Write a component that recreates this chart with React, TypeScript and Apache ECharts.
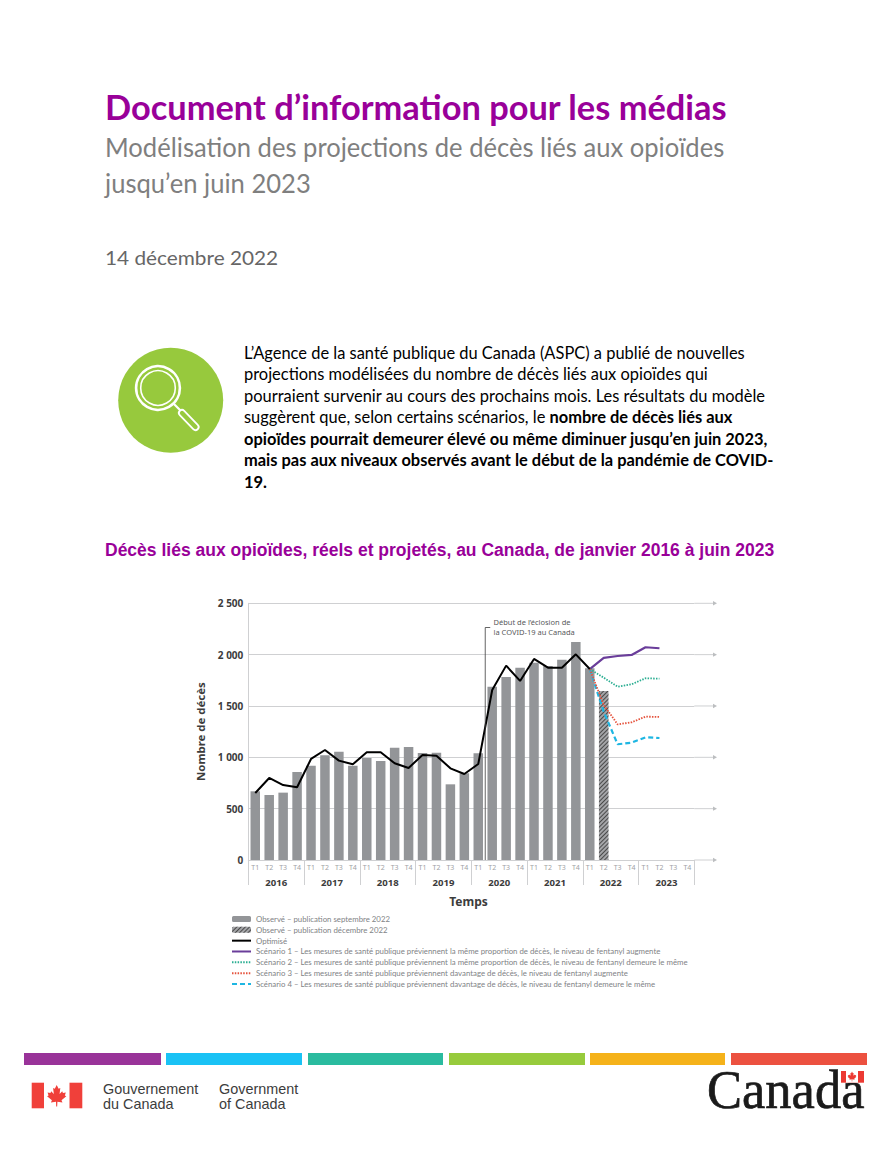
import React, { useEffect, useRef } from "react";
import * as echarts from "echarts";

const quarters = ["T1","T2","T3","T4","T1","T2","T3","T4","T1","T2","T3","T4","T1","T2","T3","T4","T1","T2","T3","T4","T1","T2","T3","T4","T1","T2","T3","T4","T1","T2","T3","T4"];
const years = ["2016","2017","2018","2019","2020","2021","2022","2023"];
const yTicks = [0, 500, 1000, 1500, 2000, 2500];
const observedSept = [669,633,656,857,919,1020,1055,919,994,964,1094,1100,1042,1045,737,844,1039,1688,1783,1873,1922,1890,1951,2124,1867];
const observedDec = [null,null,null,null,null,null,null,null,null,null,null,null,null,null,null,null,null,null,null,null,null,null,null,null,null,1646];
const optimised = [653,799,730,708,984,1071,968,932,1049,1049,942,896,1023,1016,893,838,935,1656,1893,1744,1958,1873,1873,2003,1860];
const blank24 = [null,null,null,null,null,null,null,null,null,null,null,null,null,null,null,null,null,null,null,null,null,null,null,null];
const scenario1 = [...blank24, 1860, 1968, 1987, 1997, 2072, 2062];
const scenario2 = [...blank24, 1860, 1776, 1688, 1711, 1770, 1766];
const scenario3 = [...blank24, 1860, 1510, 1321, 1341, 1396, 1393];
const scenario4 = [...blank24, 1860, 1445, 1127, 1143, 1195, 1188];

const legendNames = [
  "Observé – publication septembre 2022",
  "Observé – publication décembre 2022",
  "Optimisé",
  "Scénario 1 – Les mesures de santé publique préviennent la même proportion de décès, le niveau de fentanyl augmente",
  "Scénario 2 – Les mesures de santé publique préviennent la même proportion de décès, le niveau de fentanyl demeure le même",
  "Scénario 3 – Les mesures de santé publique préviennent davantage de décès, le niveau de fentanyl augmente",
  "Scénario 4 – Les mesures de santé publique préviennent davantage de décès, le niveau de fentanyl demeure le même",
];

const bodyLines = [
  "{n|L’Agence de la santé publique du Canada (ASPC) a publié de nouvelles}",
  "{n|projections modélisées du nombre de décès liés aux opioïdes qui}",
  "{n|pourraient survenir au cours des prochains mois. Les résultats du modèle}",
  "{n|suggèrent que, selon certains scénarios, le }{b|nombre de décès liés aux}",
  "{b|opioïdes pourrait demeurer élevé ou même diminuer jusqu’en juin 2023,}",
  "{b|mais pas aux niveaux observés avant le début de la pandémie de COVID-}",
  "{b|19.}",
];
const bodyY = [352.5, 374, 395.5, 417, 438.5, 460, 481.5];
const footerColors = ["#993399", "#1AC2F5", "#2ABB9F", "#97CB3C", "#F5B21A", "#EC5140"];
const footerX = [[24,161],[166,302],[308,443],[449,585],[590,725],[731,867]];
const leaf = [[50,0],[42,16],[35,12],[38,38],[27,26],[24,33],[12,31],[16,44],[10,47],[30,64],[26,73],[47,70],[48,90],[52,90],[53,70],[74,73],[70,64],[90,47],[84,44],[88,31],[76,33],[73,26],[62,38],[65,12],[58,16]];

const body = "Lato";
const chartFont = "Noto Sans";
const arial = "Liberation Sans";
const purple = "#990099";

function txt(text: string, x: number, y: number, fontSize: number, fill: string, fontFamily: string, fontWeight: any = "normal", extra: any = {}) {
  return { type: "text", x, y, z: 10, silent: true, ...extra, style: { text, x: 0, y: 0, fontSize, fill, fontFamily, fontWeight, verticalAlign: "middle", ...(extra.style || {}) } };
}
function leafAt(x: number, y: number, s: number, fill: string, z = 11) {
  return { type: "polygon", x, y, z, scaleX: s, scaleY: s, shape: { points: leaf }, style: { fill } };
}

export default function App() {
  const ref = useRef<HTMLDivElement>(null);
  useEffect(() => {
    document.body.style.margin = "0";
    const chart = echarts.init(ref.current!, undefined, { renderer: "svg" });
    chart.setOption({
      animation: false,
      backgroundColor: "#fff",
      grid: { left: 248.3, top: 603.3, width: 446, height: 256.7, containLabel: false },
      legend: {
        left: 231, top: 915, orient: "vertical", itemWidth: 19, itemHeight: 6, itemGap: 2.83, padding: 0, selectedMode: false,
        textStyle: { fontFamily: "Lato", fontSize: 7.82, color: "#808285", lineHeight: 8 },
        data: legendNames.map((name, i) => (i < 2 ? { name } : { name, itemStyle: { color: "transparent", borderWidth: 0 } })),
      },
      xAxis: [
        { type: "category", data: quarters, position: "bottom", axisLine: { show: true, lineStyle: { color: "#cfd0d2", width: 1 } }, axisTick: { show: false }, axisLabel: { interval: 0, margin: 4, fontFamily: chartFont, fontSize: 7, color: "#a0a2a5" } },
        { type: "category", data: years, position: "bottom", axisLine: { show: false }, axisTick: { show: true, alignWithLabel: false, length: 25, lineStyle: { color: "#cfd0d2", width: 1 } }, axisLabel: { interval: 0, margin: 17, fontFamily: chartFont, fontWeight: "bold", fontSize: 9.6, color: "#3c3c3c" } },
      ],
      yAxis: {
        type: "value", min: 0, max: 2500, interval: 500,
        name: "Nombre de décès", nameLocation: "middle", nameGap: 42, nameRotate: 90,
        nameTextStyle: { fontFamily: chartFont, fontWeight: "bold", fontSize: 11.4, color: "#3c3c3c" },
        axisLine: { show: true, lineStyle: { color: "#cfd0d2" } }, axisTick: { show: false },
        axisLabel: { margin: 5, padding: [0, 0, 3, 0], fontFamily: chartFont, fontWeight: "bold", fontSize: 10, color: "#3c3c3c", formatter: (v: number) => (yTicks.includes(v) ? String(v).replace(/(\d)(?=\d{3}$)/, "$1 ") : "") },
        splitLine: { show: true, lineStyle: { color: "#cfd0d2", width: 1 } },
      },
      series: [
        { name: legendNames[0], type: "bar", data: observedSept, barWidth: 9.5, barGap: "-100%", itemStyle: { color: "#939598" } },
        { name: legendNames[1], type: "bar", data: observedDec, barWidth: 9.5, itemStyle: { color: "#a4a5a8", decal: { symbol: "rect", symbolSize: 1, dashArrayX: [1, 0], dashArrayY: [0.9, 2], rotation: -Math.PI / 4, color: "#4a4a4a" } } },
        { name: legendNames[2], type: "line", data: optimised, symbol: "none", z: 6, lineStyle: { color: "#000", width: 2 }, itemStyle: { color: "#000" } },
        { name: legendNames[3], type: "line", data: scenario1, symbol: "none", z: 5, lineStyle: { color: "#6A3D9A", width: 2.2 }, itemStyle: { color: "#6A3D9A" } },
        { name: legendNames[4], type: "line", data: scenario2, symbol: "none", z: 5, lineStyle: { color: "#2BAE92", width: 1.8, type: [1.5, 1.3] }, itemStyle: { color: "#2BAE92" } },
        { name: legendNames[5], type: "line", data: scenario3, symbol: "none", z: 5, lineStyle: { color: "#E5533D", width: 1.8, type: [1.5, 1.3] }, itemStyle: { color: "#E5533D" } },
        { name: legendNames[6], type: "line", data: scenario4, symbol: "none", z: 4, lineStyle: { color: "#1EB6E2", width: 2.2, type: [5, 3] }, itemStyle: { color: "#1EB6E2" } },
      ],
    });

    const rightEnd = chart.convertToPixel({ xAxisIndex: 0 }, 31) + 446 / 64;
    const arrowEnd = rightEnd + 18.7;
    const extensions = yTicks.flatMap((v) => {
      const y = chart.convertToPixel({ yAxisIndex: 0 }, v);
      return [
        { type: "line", z: 1, silent: true, shape: { x1: rightEnd, y1: y, x2: arrowEnd, y2: y }, style: { stroke: "#cfd0d2", lineWidth: 1 } },
        { type: "polygon", z: 1, silent: true, shape: { points: [[arrowEnd, y - 2.2], [arrowEnd + 4, y], [arrowEnd, y + 2.2]] }, style: { fill: "#bcbec0" } },
      ];
    });
    const covidX = chart.convertToPixel({ xAxisIndex: 0 }, 16) + 446 / 64;
    const covidBase = chart.convertToPixel({ yAxisIndex: 0 }, 0);

    chart.setOption({
      graphic: [
        txt("Document d’information pour les médias", 105, 106.5, 34.4, purple, body, "bold"),
        txt("Modélisation des projections de décès liés aux opioïdes", 105, 147, 27, "#7f7f7f", body, "normal", { scaleX: 0.948 }),
        txt("jusqu’en juin 2023", 105, 183, 27, "#7f7f7f", body, "normal", { scaleX: 0.948 }),
        txt("14 décembre 2022", 105, 257, 19, "#666", body, "normal", { scaleX: 1.095 }),
        { type: "circle", z: 5, shape: { cx: 170.7, cy: 400.3, r: 52.5 }, style: { fill: "#97C93D" } },
        { type: "circle", z: 6, shape: { cx: 158, cy: 388, r: 21.9 }, style: { fill: "none", stroke: "#fff", lineWidth: 2.6 } },
        { type: "circle", z: 6, shape: { cx: 158, cy: 388, r: 17.3 }, style: { fill: "none", stroke: "#fff", lineWidth: 1.6 } },
        { type: "line", z: 6, shape: { x1: 174, y1: 404, x2: 181, y2: 411 }, style: { stroke: "#fff", lineWidth: 2.2 } },
        { type: "line", z: 6, shape: { x1: 182, y1: 413, x2: 195.5, y2: 427 }, style: { stroke: "#fff", lineWidth: 8, lineCap: "round" } },
        { type: "line", z: 7, shape: { x1: 182, y1: 413, x2: 195.5, y2: 427 }, style: { stroke: "#97C93D", lineWidth: 4.4, lineCap: "round" } },
        ...bodyLines.map((t, i) => ({
          type: "text", x: 244, y: bodyY[i], z: 10, silent: true,
          style: { text: t, verticalAlign: "middle", rich: {
            n: { fontFamily: body, fontSize: 16.45, fill: "#000", color: "#000" },
            b: { fontFamily: body, fontSize: 16.45, fontWeight: "bold", fill: "#000", color: "#000" },
          } },
        })),
        txt("Décès liés aux opioïdes, réels et projetés, au Canada, de janvier 2016 à juin 2023", 105, 550, 17.5, purple, arial, "bold"),
        ...extensions,
        { type: "polyline", z: 8, silent: true, shape: { points: [[covidX, covidBase], [covidX, 627.5], [covidX + 5, 627.5]] }, style: { fill: "none", stroke: "#3c3c3c", lineWidth: 0.8 } },
        txt("Début de l’éclosion de", 493.5, 622, 7.5, "#58595b", chartFont),
        txt("la COVID-19 au Canada", 493.5, 632, 7.5, "#58595b", chartFont),
        txt("Temps", 468.5, 901, 12, "#3c3c3c", chartFont, "bold", { style: { align: "center" } }),
        ...footerX.map(([a, b], i) => ({ type: "rect", z: 5, shape: { x: a, y: 1053, width: b - a, height: 12 }, style: { fill: footerColors[i] } })),
        { type: "rect", z: 5, shape: { x: 31.7, y: 1082.7, width: 12.3, height: 25.6 }, style: { fill: "#F0403A" } },
        { type: "rect", z: 5, shape: { x: 69.5, y: 1082.7, width: 12.8, height: 25.6 }, style: { fill: "#F0403A" } },
        leafAt(44.7, 1085, 0.24, "#F0403A"),
        txt("Gouvernement", 103, 1088.7, 14.4, "#3c3c3c", arial),
        txt("du Canada", 103, 1103.7, 14.4, "#3c3c3c", arial),
        txt("Government", 219, 1088.7, 14.4, "#3c3c3c", arial),
        txt("of Canada", 219, 1103.7, 14.4, "#3c3c3c", arial),
        txt("Canada", 707, 1090, 55, "#1a1a1a", "Liberation Serif", "normal", { scaleX: 0.955, style: { stroke: "#1a1a1a", lineWidth: 0.7 } }),
        { type: "rect", z: 12, shape: { x: 841, y: 1071, width: 23, height: 11.7 }, style: { fill: "#EC3A33" } },
        { type: "rect", z: 13, shape: { x: 846, y: 1071, width: 12, height: 11.7 }, style: { fill: "#fff" } },
        leafAt(846.5, 1071.6, 0.11, "#EC3A33", 14),
      ],
    });
    return () => chart.dispose();
  }, []);
  return <div ref={ref} style={{ position: "absolute", left: 0, top: 0, width: 896, height: 1159 }} />;
}
